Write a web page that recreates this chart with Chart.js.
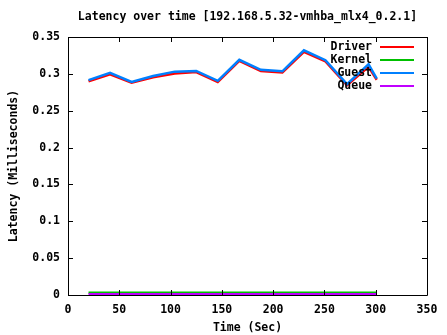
<!DOCTYPE html>
<html>
<head>
<meta charset="utf-8">
<script src="https://cdn.jsdelivr.net/npm/chart.js@4.4.0/dist/chart.umd.min.js"></script>
<style>
  body { margin: 0; background: #fff; }
  #wrap { width: 447px; height: 335px; }
</style>
</head>
<body>
<div id="wrap"><canvas id="myChart" width="447" height="335"></canvas></div>
<script>
const graph = document.querySelector("#myChart");

// sample times (sec) and latency per layer (ms)
const tiempos = [20, 41, 62, 83, 104, 125, 146, 167, 188, 209, 230, 251, 272, 293, 301];
const driver = [0.290, 0.2995, 0.288, 0.2955, 0.3005, 0.3025, 0.289, 0.3175, 0.304, 0.302, 0.330, 0.317, 0.2845, 0.3095, 0.292];
const kernel = [0.003, 0.003, 0.003, 0.003, 0.003, 0.003, 0.003, 0.003, 0.003, 0.003, 0.003, 0.003, 0.003, 0.003, 0.003];
const guest = [0.2915, 0.3015, 0.289, 0.297, 0.303, 0.304, 0.2905, 0.319, 0.3055, 0.3035, 0.332, 0.3185, 0.286, 0.313, 0.2935];
const queue = [0.001, 0.001, 0.001, 0.001, 0.001, 0.001, 0.001, 0.001, 0.001, 0.001, 0.001, 0.001, 0.001, 0.001, 0.001];

const xTicks = [0, 50, 100, 150, 200, 250, 300, 350];
const yTicks = [0, 0.05, 0.1, 0.15, 0.2, 0.25, 0.3, 0.35];
const yTickLabels = ["0", "0.05", "0.1", "0.15", "0.2", "0.25", "0.3", "0.35"];

const titulo = "Latency over time [192.168.5.32-vmhba_mlx4_0.2.1]";
const fuente = "bold 11.5px 'DejaVu Sans Mono'";

function serie(valores) {
  return tiempos.map((t, i) => ({ x: t, y: valores[i] }));
}

// title, frame, inward ticks and the legend drawn the gnuplot way
const marco = {
  id: "marco",
  afterDatasetsDraw(chart) {
    const ctx = chart.ctx;
    const a = chart.chartArea;
    const sx = chart.scales.x;
    const sy = chart.scales.y;
    ctx.save();
    ctx.strokeStyle = "#000";
    ctx.lineWidth = 1;
    ctx.beginPath();
    ctx.rect(Math.round(a.left) + 0.5, Math.round(a.top) + 0.5, Math.round(a.right - a.left), Math.round(a.bottom - a.top));
    xTicks.forEach((v) => {
      const px = Math.round(sx.getPixelForValue(v)) + 0.5;
      ctx.moveTo(px, a.bottom); ctx.lineTo(px, a.bottom - 5);
      ctx.moveTo(px, a.top); ctx.lineTo(px, a.top + 5);
    });
    yTicks.forEach((v) => {
      const py = Math.round(sy.getPixelForValue(v)) + 0.5;
      ctx.moveTo(a.left, py); ctx.lineTo(a.left + 5, py);
      ctx.moveTo(a.right, py); ctx.lineTo(a.right - 5, py);
    });
    ctx.stroke();

    ctx.font = fuente;
    ctx.fillStyle = "#000";
    ctx.textAlign = "center";
    ctx.textBaseline = "middle";
    ctx.fillText(titulo, (a.left + a.right) / 2, 17);

    // legend
    chart.data.datasets.forEach((ds, i) => {
      const y = 47 + i * 13;
      ctx.textAlign = "right";
      ctx.fillStyle = "#000";
      ctx.fillText(ds.label, 372, y);
      ctx.strokeStyle = ds.borderColor;
      ctx.lineWidth = 2;
      ctx.beginPath();
      ctx.moveTo(380, y);
      ctx.lineTo(414, y);
      ctx.stroke();
    });
    ctx.restore();
  },
};

Chart.defaults.font.family = "'DejaVu Sans Mono'";
Chart.defaults.font.weight = "bold";
Chart.defaults.font.size = 11.5;
Chart.defaults.color = "#000";

const myChart = new Chart(graph, {
  type: "line",
  data: {
    datasets: [
      { label: "Driver", data: serie(driver), borderColor: "#ff0000", order: 4 },
      { label: "Kernel", data: serie(kernel), borderColor: "#00c000", order: 3 },
      { label: "Guest", data: serie(guest), borderColor: "#0080ff", order: 2 },
      { label: "Queue", data: serie(queue), borderColor: "#c000ff", order: 1 },
    ],
  },
  options: {
    responsive: false,
    animation: false,
    layout: { padding: { top: 37, right: 20, left: 0, bottom: 0 } },
    elements: {
      point: { radius: 0 },
      line: { borderWidth: 2.5, tension: 0 },
    },
    plugins: {
      legend: { display: false },
      title: { display: false },
      tooltip: { enabled: false },
    },
    scales: {
      x: {
        type: "linear",
        min: 0,
        max: 350,
        afterBuildTicks: (s) => { s.ticks = xTicks.map((v) => ({ value: v })); },
        afterFit: (s) => { s.height = 40; },
        grid: { display: false, drawTicks: false },
        border: { display: false },
        ticks: { padding: 8, maxRotation: 0 },
        title: { display: true, text: "Time (Sec)", padding: { top: 2, bottom: 0 } },
      },
      y: {
        min: 0,
        max: 0.35,
        afterBuildTicks: (s) => { s.ticks = yTicks.map((v) => ({ value: v })); },
        afterFit: (s) => { s.width = 68; },
        grid: { display: false, drawTicks: false },
        border: { display: false },
        ticks: {
          padding: 8,
          callback: (v, i) => yTickLabels[i],
        },
        title: { display: true, text: "Latency (Milliseconds)", padding: { top: 7, bottom: 2 } },
      },
    },
  },
  plugins: [marco],
});
</script>
</body>
</html>
